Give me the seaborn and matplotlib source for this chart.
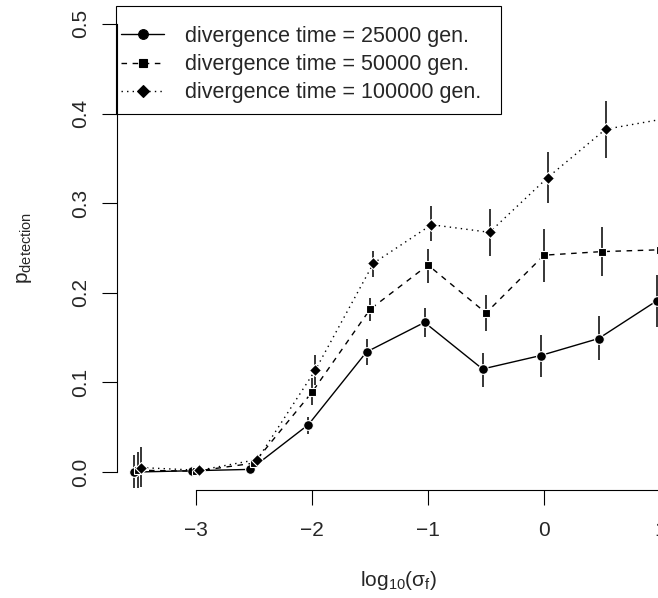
import matplotlib
matplotlib.use("Agg")
import matplotlib.pyplot as plt
from matplotlib.patches import Rectangle
import seaborn as sns
import numpy as np
import pandas as pd

# ---- data ----
log_sigma = [-3.5, -3.0, -2.5, -2.0, -1.5, -1.0, -0.5, 0.0, 0.5, 1.0]

p25 = [0.000, 0.0015, 0.003, 0.053, 0.134, 0.167, 0.115, 0.130, 0.149, 0.191]
p25_lo = [-0.018, -0.001, 0.000, 0.043, 0.119, 0.151, 0.095, 0.106, 0.125, 0.162]
p25_hi = [0.019, 0.004, 0.006, 0.062, 0.148, 0.183, 0.133, 0.153, 0.174, 0.220]

p50 = [0.002, 0.001, 0.010, 0.089, 0.1815, 0.231, 0.1775, 0.242, 0.246, 0.248]
p50_lo = [-0.018, -0.001, 0.005, 0.075, 0.168, 0.211, 0.157, 0.212, 0.219, 0.220]
p50_hi = [0.022, 0.003, 0.015, 0.105, 0.194, 0.249, 0.1975, 0.271, 0.273, 0.275]

p100 = [0.005, 0.002, 0.014, 0.114, 0.233, 0.276, 0.2675, 0.3285, 0.3825, 0.394]
p100_lo = [-0.017, 0.000, 0.010, 0.097, 0.218, 0.258, 0.241, 0.300, 0.350, 0.360]
p100_hi = [0.028, 0.004, 0.018, 0.131, 0.247, 0.297, 0.294, 0.3575, 0.414, 0.430]

labels = ["divergence time = 25000 gen.",
          "divergence time = 50000 gen.",
          "divergence time = 100000 gen."]

x_ticks = [-3, -2, -1, 0, 1]
y_ticks = [0.0, 0.1, 0.2, 0.3, 0.4, 0.5]

# ---- style ----
sns.set_style("ticks")
plt.rcParams["font.family"] = ["Liberation Sans", "DejaVu Sans"]
plt.rcParams["mathtext.fontset"] = "custom"
plt.rcParams["mathtext.rm"] = "Liberation Sans"
plt.rcParams["mathtext.it"] = "Liberation Sans"
plt.rcParams["mathtext.default"] = "regular"
FS = 15.0
LFS = 15.5

W, H = 658, 598
fig = plt.figure(figsize=(W / 100, H / 100), dpi=100)
# plot region in pixels: x 117..681, y 6..490
ax = fig.add_axes([117 / W, (H - 490) / H, 564 / W, 484 / H])
ax.set_xlim(-3.68, 1.18)
ax.set_ylim(-0.02, 0.52)

dodge = 0.03
series = [
    (p25, p25_lo, p25_hi, -dodge, "o", 7.0, "-", labels[0]),
    (p50, p50_lo, p50_hi, 0.0, "s", 5.8, (0, (4, 4)), labels[1]),
    (p100, p100_lo, p100_hi, dodge, "D", 6.2, (0, (1, 3)), labels[2]),
]

for vals, lo, hi, off, mk, ms, ls, lab in series:
    xs = np.array(log_sigma) + off
    ax.vlines(xs, lo, hi, color="black", lw=1.1, zorder=2)
    df = pd.DataFrame({"x": xs, "y": vals})
    sns.lineplot(data=df, x="x", y="y", ax=ax, color="black", marker=mk,
                 markersize=ms, markeredgecolor="white", markeredgewidth=0.8,
                 linestyle=ls, linewidth=1.0, errorbar=None, label=lab,
                 zorder=3, clip_on=False)

# axes styling (R base look)
for s in ["top", "right"]:
    ax.spines[s].set_visible(False)
ax.spines["left"].set_bounds(0.0, 0.5)
ax.spines["bottom"].set_bounds(-3, 1)
for s in ["left", "bottom"]:
    ax.spines[s].set_linewidth(0.8)
    ax.spines[s].set_color("black")

ax.set_xticks(x_ticks)
ax.set_xticklabels([f"{v:d}".replace("-", "\u2212") for v in x_ticks], fontsize=FS)
ax.set_yticks(y_ticks)
ax.set_yticklabels([f"{v:.1f}" for v in y_ticks], fontsize=FS, rotation=90,
                   va="center", ha="right")
ax.tick_params(axis="both", direction="out", length=10.5, width=0.8, color="black")
ax.tick_params(axis="x", pad=12)
ax.tick_params(axis="y", pad=9)

ax.set_xlabel("")
ax.set_ylabel("")
fig.text(399 / W, 1 - 580 / H, r"log$_{10}$(σ$_{f}$)", fontsize=FS,
         ha="center", va="center")
fig.text(25 / W, 1 - 248 / H, r"p$_{detection}$", fontsize=FS,
         ha="center", va="center", rotation=90)

# legend (R style box: frame drawn separately)
leg = ax.legend(loc="upper left", bbox_to_anchor=(121 / W, 1 - 26 / H),
                bbox_transform=fig.transFigure, borderaxespad=0, borderpad=0,
                fontsize=LFS, frameon=False, handlelength=2.0,
                handletextpad=0.95, labelspacing=0.33)
for h in leg.legend_handles:
    h.set_markeredgecolor("black")
    h.set_markeredgewidth(0.8)
frame = Rectangle((116 / W, 1 - 114 / H), (501 - 116) / W, (114 - 6) / H,
                  transform=fig.transFigure, fill=False, edgecolor="black",
                  linewidth=0.8, zorder=5)
fig.patches.append(frame)

fig.savefig("out.png", dpi=100)
